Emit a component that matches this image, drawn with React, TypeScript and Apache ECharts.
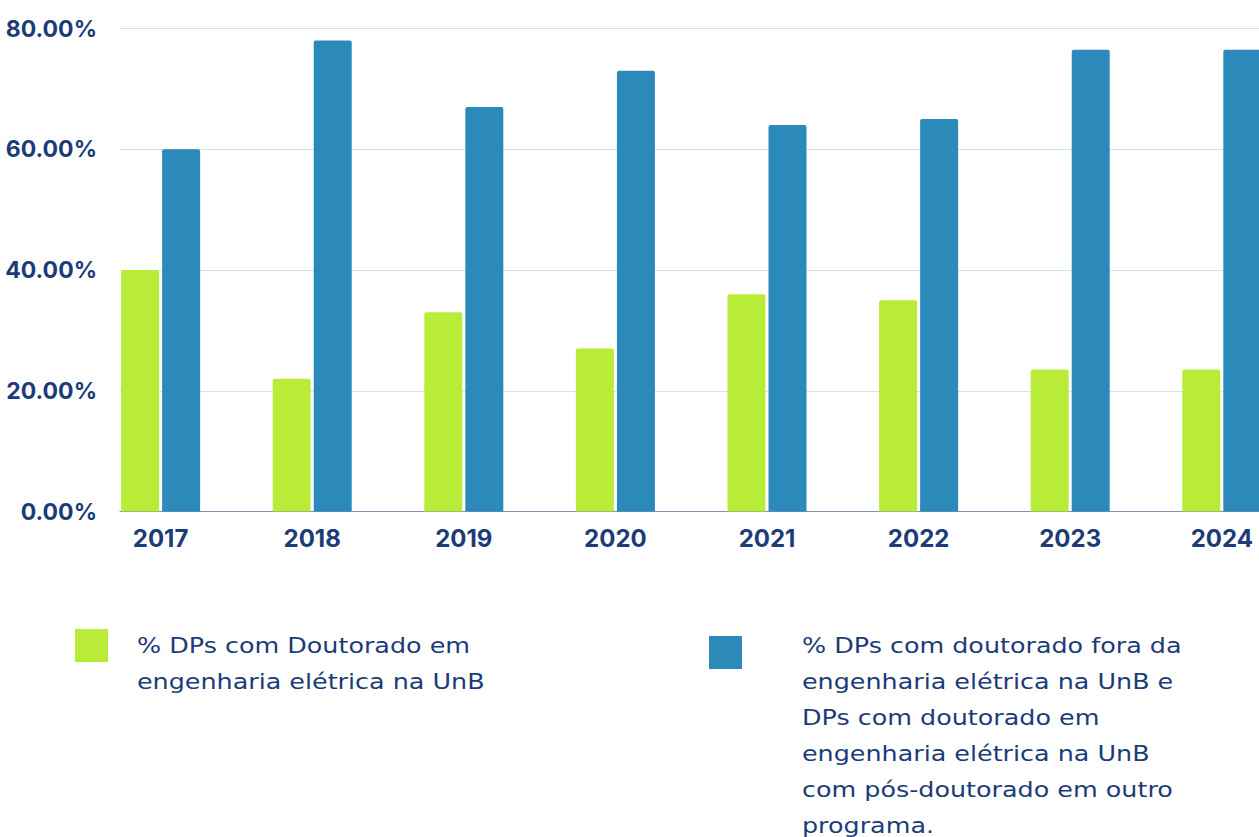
import React, { useEffect, useRef } from "react";
import * as echarts from "echarts";

const years = ["2017", "2018", "2019", "2020", "2021", "2022", "2023", "2024"];
const pctDoutoradoEE = [40, 22, 33, 27, 36, 35, 23.5, 23.5];
const pctOutros = [60, 78, 67, 73, 64, 65, 76.5, 76.5];
const seriesNames = [
  "% DPs com Doutorado em\nengenharia elétrica na UnB",
  "% DPs com doutorado fora da\nengenharia elétrica na UnB e\nDPs com doutorado em\nengenharia elétrica na UnB\ncom pós-doutorado em outro\nprograma.",
];
const yMin = 0;
const yMax = 80;
const yStep = 20;

const GREEN = "#b8ec38";
const BLUE = "#2c8aba";
const NAVY = "#1b3c78";

const CHART_W = 1310;

export default function App() {
  const ref = useRef<HTMLDivElement>(null);
  useEffect(() => {
    if (!ref.current) return;
    const chart = echarts.init(ref.current, undefined, { renderer: "svg" });
    const top = 28.5;
    const height = 483;
    const band = 151.6;
    const firstCenter = 160.6;
    const grid1Left = firstCenter - band / 2;
    chart.setOption({
      animation: false,
      grid: [
        { left: 120, right: 0, top, height },
        { left: grid1Left, width: band * years.length, top, height },
      ],
      xAxis: [
        {
          gridIndex: 0,
          type: "value",
          min: 0,
          max: 1,
          axisLabel: { show: false },
          axisTick: { show: false },
          splitLine: { show: false },
          axisLine: { show: true, lineStyle: { color: "#8391b2", width: 1 } },
        },
        {
          gridIndex: 1,
          type: "category",
          data: years,
          axisLine: { show: false },
          axisTick: { show: false },
          axisLabel: {
            margin: 15,
            color: NAVY,
            fontFamily: "Inter",
            fontWeight: "bold",
            fontSize: 24,
          },
        },
      ],
      yAxis: [
        {
          gridIndex: 0,
          type: "value",
          min: yMin,
          max: yMax,
          interval: yStep,
          axisLine: { show: false },
          axisTick: { show: false },
          splitLine: { lineStyle: { color: "#d9dfea", width: 1 } },
          axisLabel: {
            margin: 23,
            color: NAVY,
            fontFamily: "Inter",
            fontWeight: "bold",
            fontSize: 23,
            formatter: (v: number) => v.toFixed(2) + "%",
          },
        },
        {
          gridIndex: 1,
          type: "value",
          min: yMin,
          max: yMax,
          show: false,
        },
      ],
      series: [
        {
          name: seriesNames[0],
          type: "bar",
          xAxisIndex: 1,
          yAxisIndex: 1,
          data: pctDoutoradoEE,
          barWidth: 38,
          barGap: "8%",
          itemStyle: { color: GREEN, borderRadius: [2, 2, 0, 0] },
        },
        {
          name: seriesNames[1],
          type: "bar",
          xAxisIndex: 1,
          yAxisIndex: 1,
          data: pctOutros,
          barWidth: 38,
          barGap: "8%",
          itemStyle: { color: BLUE, borderRadius: [2, 2, 0, 0] },
        },
      ],
      graphic: [
        { type: "rect", shape: { x: 75, y: 629, width: 33, height: 33 }, style: { fill: GREEN } },
        {
          type: "text",
          x: 137,
          y: 627,
          scaleX: 1.21,
          style: {
            text: seriesNames[0],
            fontFamily: "DejaVu Sans",
            fontSize: 21,
            lineHeight: 36,
            fill: NAVY,
            verticalAlign: "top",
          },
        },
        { type: "rect", shape: { x: 709, y: 636, width: 33, height: 33 }, style: { fill: BLUE } },
        {
          type: "text",
          x: 802,
          y: 627,
          scaleX: 1.21,
          style: {
            text: seriesNames[1],
            fontFamily: "DejaVu Sans",
            fontSize: 21,
            lineHeight: 36,
            fill: NAVY,
            verticalAlign: "top",
          },
        },
      ],
    });
    return () => chart.dispose();
  }, []);
  return (
    <div
      style={{
        position: "fixed",
        left: 0,
        top: 0,
        width: 1259,
        height: 837,
        overflow: "hidden",
        background: "#fff",
      }}
    >
      <div ref={ref} style={{ width: CHART_W, height: 837 }} />
    </div>
  );
}
